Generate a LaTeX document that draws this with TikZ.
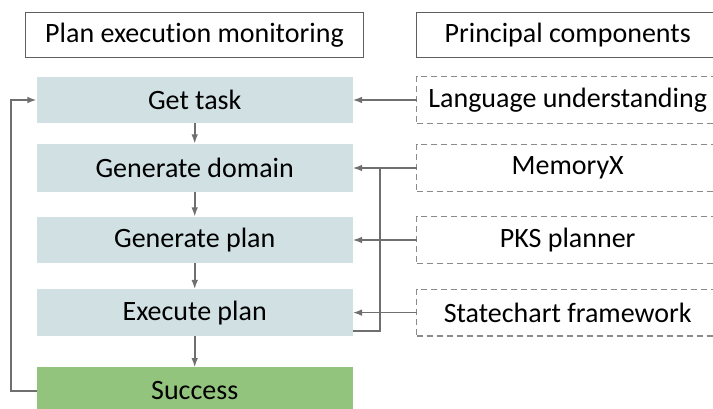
\documentclass[tikz,border=0pt]{standalone}
\usepackage{fontspec}
\setmainfont{Carlito}[Ligatures={NoCommon,NoContextual,NoRare}]
\usetikzlibrary{arrows.meta}

\definecolor{stageblue}{HTML}{D0E0E3}
\definecolor{stagegreen}{HTML}{93C47D}
\definecolor{linegray}{HTML}{6F6F6F}
\definecolor{framegray}{HTML}{5F5F5F}
\definecolor{dashgray}{HTML}{8A8A8A}

\begin{document}
\begin{tikzpicture}[x=0.75pt, y=-0.75pt]
\tikzset{ >={Latex[length=7pt,width=5pt]}, inner sep=0pt, outer sep=0pt,
  txt/.style={font=\fontsize{21}{25}\selectfont},
  head/.style={txt, draw=framegray, line width=0.8pt, minimum height=34pt},
  stage/.style={txt, fill=stageblue, minimum width=237pt, minimum height=35pt},
  part/.style={txt, draw=dashgray, dash pattern=on 4.5pt off 3pt, line width=0.9pt,
               minimum width=226.5pt, minimum height=35pt},
  link/.style={linegray, line width=1.3pt},
}

\useasboundingbox (0,0) rectangle (713,408);
%\draw [lightgray, dashed](0,0) grid[step=50] (713,408);

\node [head, minimum width=253pt]   (HL) at (194.5,35) {Plan execution monitoring};
\node [head, minimum width=226.5pt] (HR) at (567.7,35) {Principal components};

\node [stage] (GT) at (194.7,100)   {Get task};
\node [stage, minimum height=36.5pt] (GD) at (194.7,168) {Generate domain};
\node [stage] (GP) at (194.7,240)   {Generate plan};
\node [stage] (EP) at (194.7,312.6) {Execute plan};
\node [stage, fill=stagegreen] (S) at (194.7,390.7) {Success};

\node [part] (LU)  at (567.7,100)   {Language understanding};
\node [part] (MX)  at (567.7,168)   {MemoryX};
\node [part] (PKS) at (567.7,240)   {PKS planner};
\node [part] (SC)  at (567.7,312.6) {Statechart framework};

\coordinate (MJ) at (380,168);
\coordinate (EO) at (352.7,331);
\coordinate (FB) at (10.7,390.7);

\draw [->, link] (GT) -- (GD);
\draw [->, link] (GD) -- (GP);
\draw [->, link] (GP) -- (EP);
\draw [->, link] (EP) -- (S);

\draw [->, link] (LU)  -- (GT);
\draw [->, link] (MX)  -- (GD);
\draw [->, link] (PKS) -- (GP);
\draw [->, link] (SC)  -- (EP);
\draw [    link] (EO)  -| (MJ);

\draw [->, link] (S) -- (FB) |- (GT);

\end{tikzpicture}
\end{document}
